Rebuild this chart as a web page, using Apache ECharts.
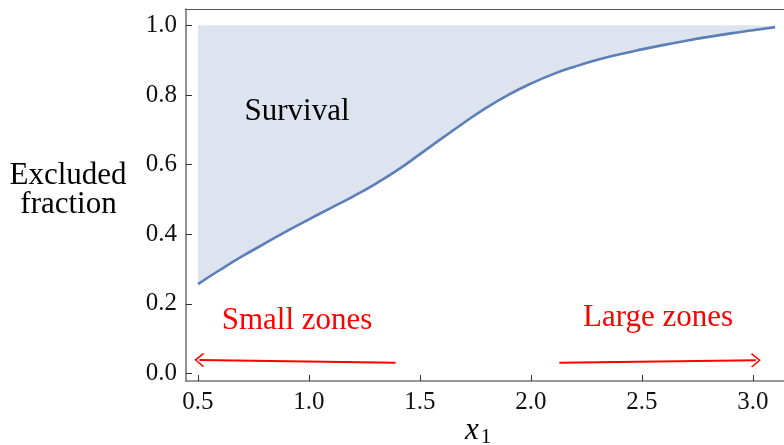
<!DOCTYPE html>
<html>
<head>
<meta charset="utf-8">
<script src="https://cdn.jsdelivr.net/npm/echarts@6/dist/echarts.min.js"></script>
<style>html,body{margin:0;padding:0;background:#fff}#c{width:784px;height:445px}</style>
</head>
<body>
<div id="c"></div>
<script>
// Data
const xValues = [0.5,0.6,0.7,0.8,0.9,1.0,1.1,1.2,1.3,1.4,1.5,1.6,1.7,1.8,1.9,2.0,2.1,2.2,2.3,2.4,2.5,2.6,2.7,2.8,2.9,3.0,3.1];
const excludedFraction = [0.257,0.298,0.337,0.373,0.409,0.443,0.476,0.509,0.545,0.585,0.630,0.676,0.721,0.764,0.801,0.833,0.860,0.882,0.901,0.917,0.931,0.944,0.956,0.967,0.977,0.986,0.995];
const survivalTop = 1.0;
const xTicks = [0.5,1.0,1.5,2.0,2.5,3.0];
const yTicks = [0.0,0.2,0.4,0.6,0.8,1.0];
const smallZonesArrow = [[1.39,0.031],[0.506,0.039]];
const largeZonesArrow = [[2.128,0.031],[3.013,0.038]];
const annotations = [
  {text:'Survival', color:'#000'},
  {text:'Small zones', color:'#ff0000'},
  {text:'Large zones', color:'#ff0000'}
];

const FONT = 'Liberation Serif';
const lineColor = '#5b7fb6';
const fillColor = '#dde4f0';

const curveData = xValues.map((x,i)=>[x, excludedFraction[i]]);

const chevron = 'path://M0,0 L10,8 L9,9.4 L0,2.2 L-9,9.4 L-10,8 Z';
const X_MIN = 0.446, X_MAX = 3.140;

const chart = echarts.init(document.getElementById('c'), null, {renderer:'canvas'});
chart.setOption({
  animation:false,
  backgroundColor:'#fff',
  textStyle:{fontFamily:FONT},
  grid:{left:186, top:9, right:0, height:372},
  xAxis:[{
    type:'value', min:X_MIN, max:X_MAX,
    axisLine:{show:true, onZero:false, lineStyle:{color:'#777', width:1.6}},
    axisTick:{show:true, inside:true, length:6, lineStyle:{color:'#333', width:1}, customValues:xTicks},
    axisLabel:{customValues:xTicks, formatter:v=>v.toFixed(1), fontFamily:FONT, fontSize:25, color:'#111', margin:9},
    splitLine:{show:false}
  },{
    type:'value', position:'top', min:X_MIN, max:X_MAX,
    axisLine:{show:true, onZero:false, lineStyle:{color:'#555', width:1}},
    axisTick:{show:false}, axisLabel:{show:false}, splitLine:{show:false}
  }],
  yAxis:{
    type:'value', min:-0.0215, max:1.047,
    axisLine:{show:true, onZero:false, lineStyle:{color:'#777', width:1.6}},
    axisTick:{show:true, inside:true, length:6, lineStyle:{color:'#333', width:1}, customValues:yTicks},
    axisLabel:{customValues:yTicks, formatter:v=>v.toFixed(1), fontFamily:FONT, fontSize:25, color:'#111', margin:9},
    splitLine:{show:false}
  },
  series:[
    {
      type:'line', data:curveData, symbol:'none', smooth:0.5, silent:true,
      lineStyle:{color:lineColor, width:2.6},
      areaStyle:{color:fillColor, opacity:1, origin:survivalTop},
      z:3,
      markLine:{
        silent:true, animation:false,
        symbol:['none', chevron], symbolSize:[14,10],
        label:{show:false},
        lineStyle:{color:'#ff0000', width:2, type:'solid'},
        data:[
          [{coord:smallZonesArrow[0]},{coord:smallZonesArrow[1]}],
          [{coord:largeZonesArrow[0]},{coord:largeZonesArrow[1]}]
        ]
      }
    }
  ],
  graphic:[
    {type:'text', z:100, style:{text:annotations[0].text, x:297, y:112, align:'center', verticalAlign:'middle', fontFamily:FONT, fontSize:31, fill:annotations[0].color}},
    {type:'text', z:100, style:{text:annotations[1].text, x:297, y:320.5, align:'center', verticalAlign:'middle', fontFamily:FONT, fontSize:31, fill:annotations[1].color}},
    {type:'text', z:100, style:{text:annotations[2].text, x:658, y:317.5, align:'center', verticalAlign:'middle', fontFamily:FONT, fontSize:31, fill:annotations[2].color}},
    {type:'text', z:100, style:{text:'Excluded', x:68, y:175.5, align:'center', verticalAlign:'middle', fontFamily:FONT, fontSize:31, fill:'#000'}},
    {type:'text', z:100, style:{text:'fraction', x:68.5, y:204.5, align:'center', verticalAlign:'middle', fontFamily:FONT, fontSize:31, fill:'#000'}},
    {type:'text', z:100, style:{text:'x', x:472, y:431, align:'center', verticalAlign:'middle', fontFamily:FONT, fontSize:31, fontStyle:'italic', fill:'#000'}},
    {type:'text', z:100, style:{text:'1', x:486, y:437, align:'center', verticalAlign:'middle', fontFamily:FONT, fontSize:21, fill:'#000'}}
  ]
});
</script>
</body>
</html>
